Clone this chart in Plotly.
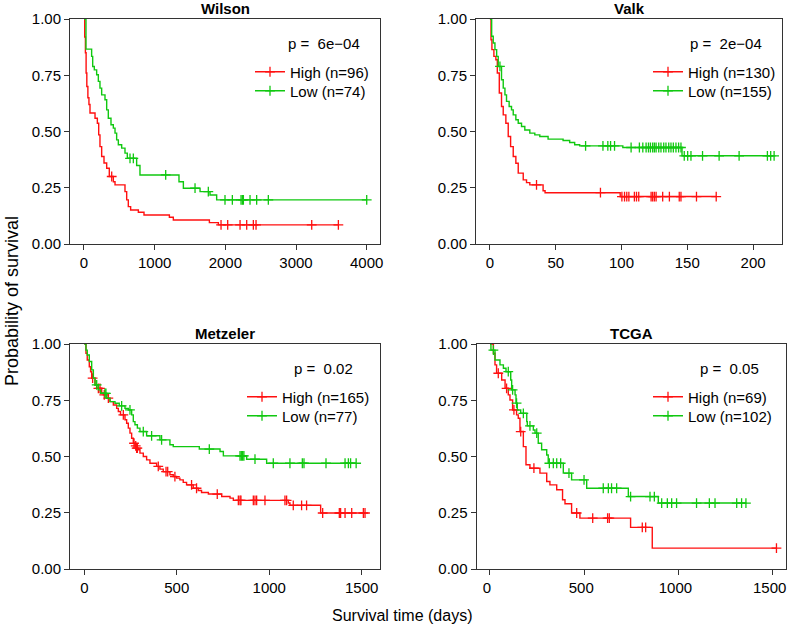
import numpy as np
import plotly.graph_objects as go

# ---- Kaplan-Meier step points (time, survival) ----
# Wilson
wilson_high_t = [0, 10, 20, 30, 40, 55, 70, 85, 156, 189, 208, 226, 250, 283, 321, 358, 415, 439,
                 580, 604, 627, 660, 769, 849, 1208, 1264, 1774, 1901]
wilson_high_s = [1.0, 0.92, 0.85, 0.76, 0.70, 0.65, 0.62, 0.582, 0.559, 0.537, 0.485, 0.433, 0.389,
                 0.36, 0.337, 0.30, 0.277, 0.263, 0.233, 0.196, 0.166, 0.151, 0.141, 0.129, 0.119,
                 0.107, 0.095, 0.085]
wilson_high_cens = [392, 1939, 2033, 2208, 2302, 2396, 2434, 3222, 3599]

wilson_low_t = [0, 28, 108, 123, 146, 179, 203, 226, 250, 297, 321, 344, 382, 415, 439, 462, 486,
                533, 580, 613, 745, 792, 1344, 1406, 1642, 1783, 1877]
wilson_low_s = [1.0, 0.866, 0.834, 0.789, 0.774, 0.752, 0.723, 0.693, 0.663, 0.641, 0.596, 0.559,
                0.53, 0.515, 0.493, 0.463, 0.441, 0.426, 0.404, 0.381, 0.349, 0.307, 0.277, 0.248,
                0.233, 0.218, 0.196]
wilson_low_cens = [651, 698, 1156, 1571, 1759, 1995, 2099, 2222, 2241, 2255, 2349, 2443, 2608, 4000]

# Valk
valk_high_t = [0, 0.8, 1.5, 3.0, 4.5, 5.6, 7.1, 8.8, 10.1, 12.1, 13.9, 15.7, 17.7, 19.7, 21.5, 25.3,
               27.8, 30.3, 40.4, 41.9, 99]
valk_high_s = [1.0, 0.908, 0.864, 0.834, 0.819, 0.76, 0.671, 0.611, 0.574, 0.537, 0.478, 0.433,
               0.389, 0.359, 0.315, 0.285, 0.273, 0.263, 0.237, 0.228, 0.211]
valk_high_cens = [35.4, 84, 100.3, 102.3, 104, 105.6, 109.8, 111.4, 113.1, 122.5, 123.7, 125, 126.3,
                  131.3, 136.4, 143.9, 145.2, 157, 172]

valk_low_t = [0, 1.3, 2.5, 3.8, 5.1, 6.3, 8.8, 10.1, 11.4, 12.6, 14.6, 16.4, 17.7, 19.7, 21.5, 24.0,
              26.5, 30.3, 34.1, 37.9, 44.2, 55.6, 60.6, 64.4, 68.2, 101, 146]
valk_low_s = [1.0, 0.923, 0.893, 0.864, 0.834, 0.789, 0.73, 0.693, 0.663, 0.634, 0.611, 0.596, 0.574,
              0.552, 0.537, 0.522, 0.507, 0.493, 0.485, 0.478, 0.466, 0.46, 0.451, 0.441, 0.436,
              0.429, 0.392]
valk_low_cens = [7.6, 72.7, 85.9, 89.6, 91.7, 94.7, 107.3, 113.6, 116.2, 118.7, 120.5, 122, 123.7, 125,
                 126.3, 128.3, 130, 132.1, 133.8, 135.9, 137.6, 139.4, 141.4, 143.4, 145.2, 147.7,
                 150.3, 152.8, 161.6, 174.2, 189.4, 210.9, 213.4, 216]

# Metzeler
metz_high_t = [0, 9, 16, 27, 34, 40, 58, 67, 94, 103, 121, 139, 157, 175, 184, 196, 220, 229, 238,
               247, 256, 265, 274, 283, 292, 301, 319, 337, 355, 391, 409, 427, 463, 481, 499, 517,
               535, 553, 589, 616, 634, 671, 743, 788, 806, 1103, 1112, 1278]
metz_high_s = [1.0, 0.959, 0.929, 0.899, 0.877, 0.848, 0.818, 0.803, 0.781, 0.774, 0.759, 0.744,
               0.729, 0.714, 0.70, 0.685, 0.663, 0.648, 0.626, 0.604, 0.581, 0.559, 0.547, 0.537,
               0.53, 0.515, 0.50, 0.485, 0.47, 0.456, 0.444, 0.433, 0.419, 0.411, 0.404, 0.396,
               0.385, 0.374, 0.359, 0.349, 0.34, 0.333, 0.322, 0.315, 0.305, 0.293, 0.283, 0.249]
metz_high_cens = [45, 76, 85, 108, 130, 211, 269, 278, 283, 287, 400, 442, 451, 490, 580, 607, 719,
                  833, 842, 847, 914, 923, 932, 977, 1085, 1094, 1130, 1175, 1202, 1289, 1379, 1386,
                  1410, 1446, 1509, 1518]

metz_low_t = [0, 9, 16, 27, 40, 49, 58, 76, 88, 121, 139, 166, 189, 220, 238, 256, 265, 274, 287,
              301, 337, 409, 463, 481, 622, 734, 752, 878, 986]
metz_low_s = [1.0, 0.973, 0.951, 0.922, 0.885, 0.848, 0.818, 0.796, 0.781, 0.759, 0.744, 0.737,
              0.725, 0.714, 0.707, 0.685, 0.655, 0.641, 0.626, 0.611, 0.592, 0.574, 0.552, 0.544,
              0.533, 0.522, 0.503, 0.488, 0.47]
metz_low_cens = [67, 112, 117, 202, 247, 319, 364, 418, 676, 842, 849, 856, 863, 923, 1022, 1112,
                 1179, 1188, 1307, 1410, 1428, 1440, 1470]

# TCGA
tcga_high_t = [0, 18, 26.5, 35, 62, 80, 97, 106, 120, 141, 150, 159, 177, 191, 212, 265, 301, 318,
               354, 385, 398, 433, 477, 746, 861]
tcga_high_s = [1.0, 0.959, 0.907, 0.87, 0.84, 0.803, 0.774, 0.751, 0.707, 0.685, 0.67, 0.611, 0.544,
               0.463, 0.448, 0.426, 0.389, 0.374, 0.352, 0.308, 0.29, 0.249, 0.226, 0.185, 0.093]
tcga_high_cens = [44, 88, 127, 163, 233, 460, 545, 624, 633, 808, 826, 1520]

tcga_low_t = [0, 5, 26.5, 53, 71, 85, 110, 115, 133, 138, 145, 163, 195, 198, 230, 239, 256, 274, 301,
              309, 389, 433, 513, 734, 893]
tcga_low_s = [1.0, 0.973, 0.929, 0.907, 0.892, 0.877, 0.84, 0.796, 0.774, 0.737, 0.707, 0.692,
              0.655, 0.636, 0.618, 0.604, 0.559, 0.53, 0.507, 0.47, 0.426, 0.396, 0.359, 0.322, 0.293]
tcga_low_cens = [18, 97, 120, 141, 177, 212, 248, 315, 336, 354, 375, 419, 499, 601, 628, 645, 672,
                 746, 849, 872, 911, 941, 964, 990, 1096, 1164, 1194, 1309, 1335, 1358]

panel_names = ["Wilson", "Valk", "Metzeler", "TCGA"]
p_labels = ["6e\u221204", "2e\u221204", "0.02", "0.05"]
high_n = [96, 130, 165, 69]
low_n = [74, 155, 77, 102]

RED = "#FF1010"
GREEN = "#10C810"
FONT = "Liberation Sans, Arial, Helvetica, sans-serif"
W, H = 787, 625

# panel boxes in pixels (left, right, top, bottom) and x ranges
boxes = [(70, 380, 19, 244), (476, 782, 19, 244), (70, 380, 344, 569), (476.5, 786, 344, 569)]
x_ranges = [[-198, 4188], [-10.6, 222], [-77.3, 1599], [-71.6, 1570.6]]
x_dticks = [1000, 50, 500, 500]
x_label_shift = [0, 0, 0, -3]   # keeps the last TCGA label inside the page
legend_text_x = [290, 688, 282, 688]

curves = [
    ((wilson_high_t, wilson_high_s, wilson_high_cens), (wilson_low_t, wilson_low_s, wilson_low_cens)),
    ((valk_high_t, valk_high_s, valk_high_cens), (valk_low_t, valk_low_s, valk_low_cens)),
    ((metz_high_t, metz_high_s, metz_high_cens), (metz_low_t, metz_low_s, metz_low_cens)),
    ((tcga_high_t, tcga_high_s, tcga_high_cens), (tcga_low_t, tcga_low_s, tcga_low_cens)),
]


def cross(color):
    return dict(symbol="cross-thin-open", size=7, color=color, line=dict(color=color, width=1.3))


def km_trace(t, s, cens, color, xa, ya):
    t = np.asarray(t, float)
    s = np.asarray(s, float)
    c = np.asarray(cens, float)
    end = max(t[-1], c.max())
    line = go.Scatter(x=list(t) + [end], y=list(s) + [s[-1]], mode="lines", line_shape="hv",
                      line=dict(color=color, width=1.4), xaxis=xa, yaxis=ya, showlegend=False,
                      hoverinfo="skip")
    idx = np.searchsorted(t, c, side="right") - 1
    marks = go.Scatter(x=c, y=s[idx], mode="markers", xaxis=xa, yaxis=ya, showlegend=False,
                       marker=cross(color), hoverinfo="skip")
    return [line, marks]


fig = go.Figure()
layout = dict(width=W, height=H, margin=dict(l=0, r=0, t=0, b=0),
              paper_bgcolor="white", plot_bgcolor="white",
              font=dict(family=FONT, size=15, color="black"), annotations=[])

n_leg = 0
for i in range(4):
    k = "" if i == 0 else str(i + 1)
    xa, ya = "x" + k, "y" + k
    l, r, t, b = boxes[i]
    axis_common = dict(showline=True, mirror=True, linecolor="#333", linewidth=1,
                       ticks="outside", ticklen=5, tickwidth=1, tickcolor="#333",
                       showgrid=False, zeroline=False, automargin=False,
                       ticklabeloverflow="allow",
                       tickfont=dict(size=15, family=FONT, color="black"))
    layout["xaxis" + k] = dict(domain=[l / W, r / W], range=x_ranges[i], anchor=ya,
                               tickmode="linear", tick0=0, dtick=x_dticks[i],
                               ticklabelshift=x_label_shift[i], **axis_common)
    layout["yaxis" + k] = dict(domain=[1 - b / H, 1 - t / H], range=[0, 1], anchor=xa,
                               tickvals=[0, 0.25, 0.5, 0.75, 1.0], tickformat=".2f", **axis_common)

    (ht, hs, hc), (lt, ls, lc) = curves[i]
    for tr in km_trace(ht, hs, hc, RED, xa, ya) + km_trace(lt, ls, lc, GREEN, xa, ya):
        fig.add_trace(tr)

    # one legend per row so each row sits where the reference has it
    for j, (name, color) in enumerate(((f"High (n={high_n[i]})", RED), (f"Low (n={low_n[i]})", GREEN))):
        n_leg += 1
        leg = "legend" if n_leg == 1 else f"legend{n_leg}"
        fig.add_trace(go.Scatter(x=[None], y=[None], mode="lines+markers", name=name, legend=leg,
                                 line=dict(color=color, width=1.4), xaxis=xa, yaxis=ya,
                                 marker=cross(color)))
        row_y = t + 53 + 19 * j
        layout[leg] = dict(x=(legend_text_x[i] - 40) / W, y=1 - row_y / H, xanchor="left",
                           yanchor="middle", bgcolor="rgba(0,0,0,0)",
                           font=dict(size=15, family=FONT, color="black"),
                           itemclick=False, itemdoubleclick=False)

    layout["annotations"].append(dict(text=f"<b>{panel_names[i]}</b>", xref=xa + " domain",
                                      yref=ya + " domain", x=0.5, y=1, yanchor="bottom",
                                      showarrow=False, font=dict(size=15, family=FONT)))
    layout["annotations"].append(dict(text=f"p =\u00a0\u00a0{p_labels[i]}", xref=xa + " domain",
                                      yref=ya + " domain", x=0.818, y=0.893, xanchor="center",
                                      yanchor="middle", showarrow=False,
                                      font=dict(size=15, family=FONT)))

layout["annotations"].append(dict(text="Probability of survival", xref="paper", yref="paper",
                                  x=12 / W, y=1 - 301 / H, textangle=-90, showarrow=False,
                                  xanchor="center", yanchor="middle", font=dict(size=18, family=FONT)))
layout["annotations"].append(dict(text="Survival time (days)", xref="paper", yref="paper",
                                  x=402 / W, y=1 - 615 / H, showarrow=False,
                                  xanchor="center", yanchor="middle", font=dict(size=16, family=FONT)))

fig.update_layout(**layout)
fig.write_html("out.html", config={"displayModeBar": False},
               post_script="document.body.style.margin='0';")
